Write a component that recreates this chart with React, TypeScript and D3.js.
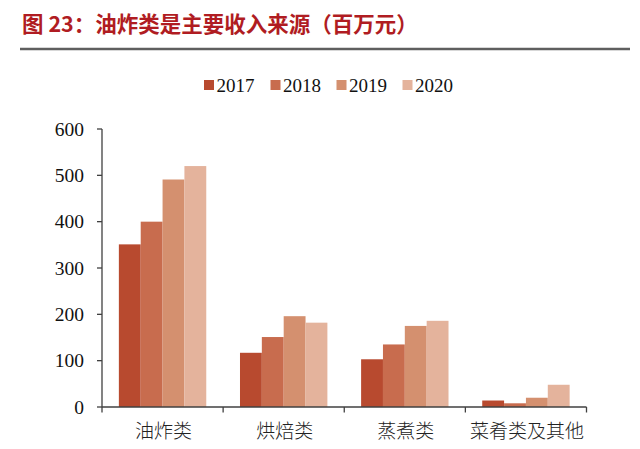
import React from "react";
import * as d3 from "d3";

const categories = ["油炸类", "烘焙类", "蒸煮类", "菜肴类及其他"];
const years = ["2017", "2018", "2019", "2020"];
const values2017 = [351, 117, 103, 14];
const values2018 = [400, 151, 135, 8];
const values2019 = [491, 196, 175, 20];
const values2020 = [520, 182, 186, 48];
const yTicks = [0, 100, 200, 300, 400, 500, 600];
const colors = ["#B84A2F", "#C86C4E", "#D4906F", "#E4B39C"];

const series = [values2017, values2018, values2019, values2020];

export default function App() {
  const W = 640, H = 449;
  const left = 102, right = 586.5, top = 129, bottom = 407;
  const x = d3.scaleBand<string>().domain(categories).range([left, right]).paddingInner(0).paddingOuter(0);
  const groupW = 87.4;
  const xi = d3.scaleBand<string>().domain(years).range([0, groupW]).padding(0);
  const y = d3.scaleLinear().domain([0, 600]).range([bottom, top]);
  const serif = "'Liberation Serif', 'DejaVu Serif', serif";
  const cjk = "'Noto Sans CJK SC', sans-serif";
  const legendX = [204, 270.5, 336.5, 402.5];

  return (
    <svg width={W} height={H} style={{ position: "absolute", left: 0, top: 0, background: "#fff" }}>
      <text x={22} y={32} fill="#B01C22" fontFamily={cjk} fontWeight="bold" fontSize={21.5}>
        图 23：油炸类是主要收入来源（百万元）
      </text>
      <line x1={20} x2={630} y1={49} y2={49} stroke="#5f5f5f" strokeWidth={2.5} />

      {years.map((yr, i) => (
        <g key={yr}>
          <rect x={legendX[i]} y={80} width={10} height={10} fill={colors[i]} />
          <text x={legendX[i] + 12.5} y={91.5} fontFamily={serif} fontSize={19} fill="#111">
            {yr}
          </text>
        </g>
      ))}

      {series.map((vals, si) =>
        categories.map((c, ci) => (
          <rect
            key={si + "-" + ci}
            x={(x(c) as number) + (x.bandwidth() - groupW) / 2 + (xi(years[si]) as number)}
            y={y(vals[ci])}
            width={xi.bandwidth()}
            height={bottom - y(vals[ci])}
            fill={colors[si]}
          />
        ))
      )}

      <line x1={left} x2={left} y1={top} y2={bottom} stroke="#404040" strokeWidth={1.3} />
      {yTicks.map((t) => (
        <g key={t}>
          <line x1={left - 5} x2={left} y1={y(t)} y2={y(t)} stroke="#404040" strokeWidth={1.3} />
          <text x={84} y={y(t) + 6.5} textAnchor="end" fontFamily={serif} fontSize={19.5} fill="#111">
            {t}
          </text>
        </g>
      ))}

      <line x1={left} x2={right} y1={bottom} y2={bottom} stroke="#404040" strokeWidth={1.3} />
      {[...categories.map((c) => x(c) as number), right].map((px, i) => (
        <line key={i} x1={px} x2={px} y1={bottom} y2={bottom + 5.5} stroke="#404040" strokeWidth={1.3} />
      ))}
      {categories.map((c) => (
        <text
          key={c}
          x={(x(c) as number) + x.bandwidth() / 2 + 1}
          y={438}
          textAnchor="middle"
          fontFamily={cjk}
          fontWeight={300}
          fontSize={19}
          fill="#222"
        >
          {c}
        </text>
      ))}
    </svg>
  );
}
